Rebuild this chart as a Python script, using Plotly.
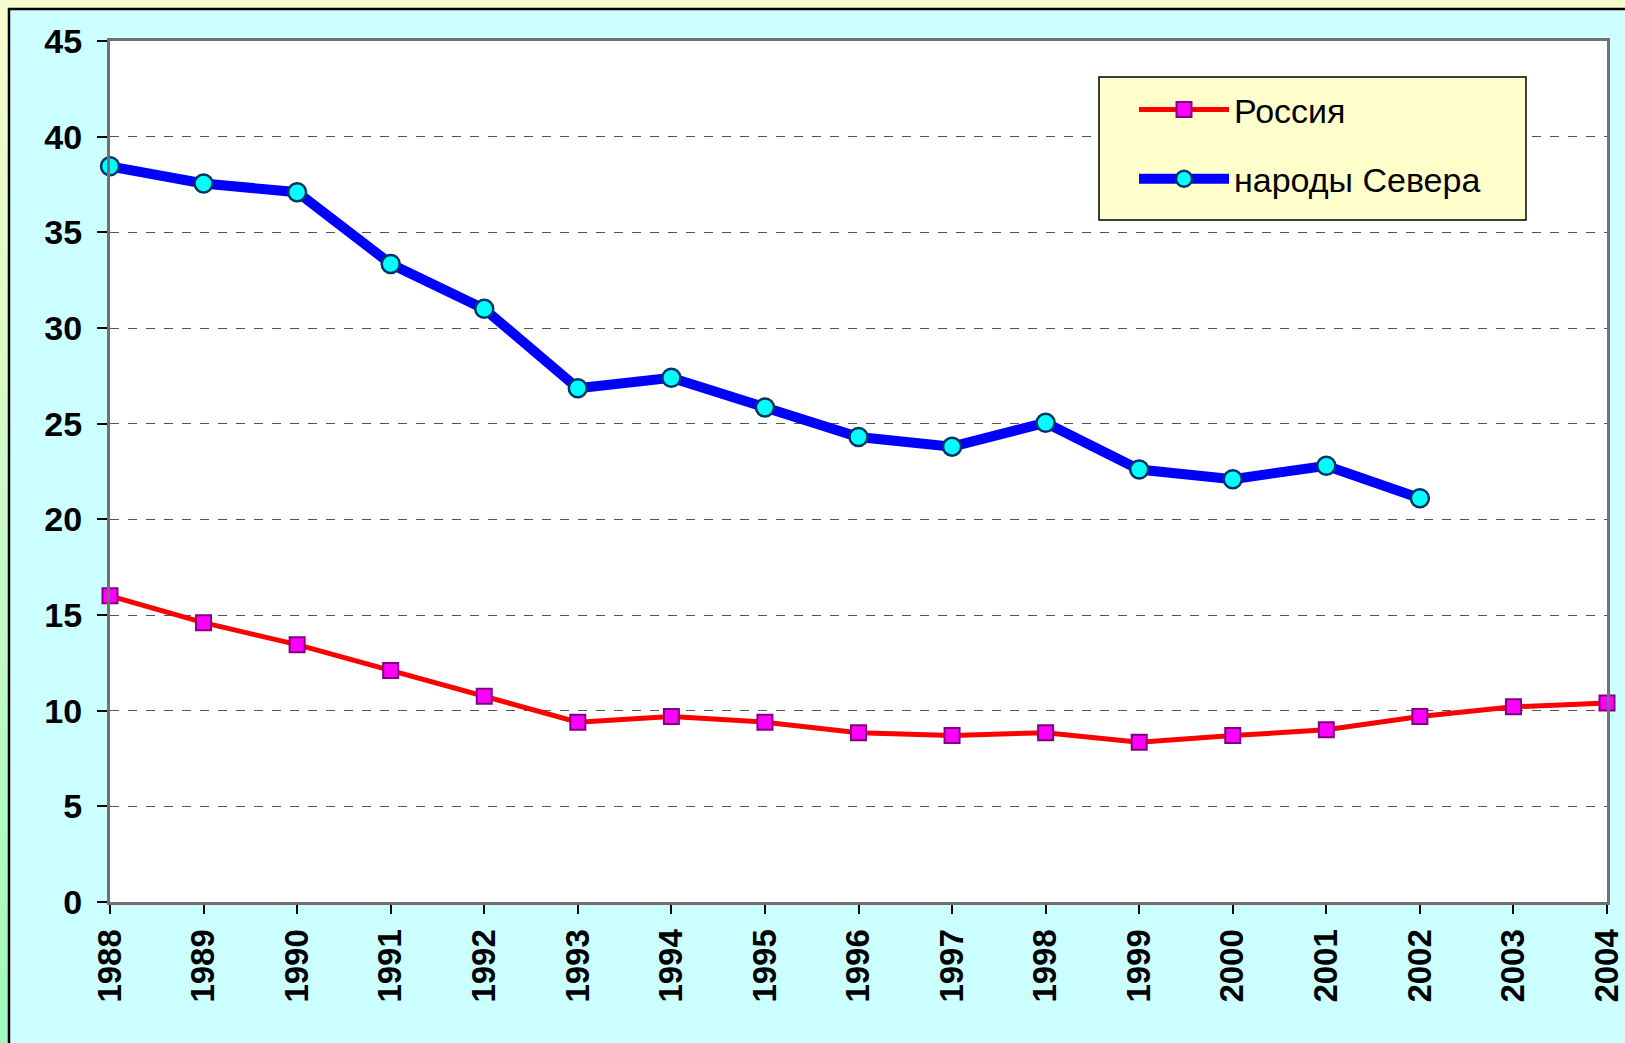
import plotly.graph_objects as go

years = list(range(1988, 2005))
russia_years = years
russia = [16.0, 14.6, 13.45, 12.1, 10.75, 9.4, 9.7, 9.4, 8.85, 8.7, 8.85, 8.35, 8.7, 9.0, 9.7, 10.2, 10.4]
north_years = list(range(1988, 2003))
north = [38.45, 37.55, 37.1, 33.35, 31.0, 26.85, 27.4, 25.85, 24.3, 23.8, 25.05, 22.6, 22.1, 22.8, 21.1]

y_ticks = [0, 5, 10, 15, 20, 25, 30, 35, 40, 45]

FONT = "Liberation Sans, Arial, sans-serif"

# figure geometry (px) for decorative shapes
W, H = 1625, 1043
L, R, T, B = 110, 18, 41, 141
pw, ph = W - L - R, H - T - B


def px_x(p):
    return (p - L) / pw


def px_y(p):
    return (H - B - p) / ph


fig = go.Figure()

fig.add_trace(go.Scatter(
    x=russia_years, y=russia, name="Россия", mode="lines+markers",
    line=dict(color="#FF0000", width=5),
    marker=dict(symbol="square", size=15, color="#FF00FF",
                line=dict(color="#800080", width=2)),
    cliponaxis=False, legendgroup="a",
))
fig.add_trace(go.Scatter(
    x=north_years, y=north, name="народы Севера", mode="lines+markers",
    line=dict(color="#0000FF", width=10),
    marker=dict(symbol="circle", size=18, color="#00FFFF",
                line=dict(color="#003366", width=2.5)),
    cliponaxis=False, legendgroup="b",
))

shapes = []
# outer left gradient strip (yellow -> green)
n = 30
top_c = (246, 252, 204)
bot_c = (160, 248, 192)
for i in range(n):
    t = i / (n - 1)
    c = tuple(round(top_c[k] + (bot_c[k] - top_c[k]) * t) for k in range(3))
    y0 = 9 + (H - 9) * i / n
    y1 = 9 + (H - 9) * (i + 1) / n + 1
    shapes.append(dict(type="rect", xref="paper", yref="paper", layer="below",
                       x0=px_x(0), x1=px_x(9), y0=px_y(y0), y1=px_y(y1),
                       fillcolor="rgb(%d,%d,%d)" % c, line=dict(width=0)))
# cyan chart area with black border
shapes.append(dict(type="rect", xref="paper", yref="paper", layer="below",
                   x0=px_x(9), x1=px_x(W + 10), y0=px_y(9), y1=px_y(H + 10),
                   fillcolor="#CCFFFF", line=dict(color="#000000", width=2.5)))
# white plot area
shapes.append(dict(type="rect", xref="paper", yref="paper", layer="below",
                   x0=0, x1=1, y0=0, y1=1,
                   fillcolor="#FFFFFF", line=dict(width=0)))
# legend box
shapes.append(dict(type="rect", xref="paper", yref="paper", layer="above",
                   x0=px_x(1099), x1=px_x(1526), y0=px_y(77), y1=px_y(220),
                   fillcolor="#FFFFCC", line=dict(color="#000000", width=1.5)))

fig.update_layout(
    width=W, height=H,
    paper_bgcolor="#F6FCCC",
    plot_bgcolor="#FFFFFF",
    margin=dict(l=L, r=R, t=T, b=B, pad=0, autoexpand=False),
    font=dict(family=FONT, color="#000000"),
    shapes=shapes,
    showlegend=True,
    legend=dict(
        x=px_x(1134), y=px_y(81), xanchor="left", yanchor="top",
        bgcolor="rgba(0,0,0,0)", borderwidth=0,
        font=dict(family=FONT, size=34, color="#000000"),
        traceorder="grouped", tracegroupgap=22, itemwidth=90,
    ),
    xaxis=dict(
        range=[1988, 2004], tickmode="array", tickvals=years,
        ticktext=[str(y) for y in years], tickangle=-90,
        tickfont=dict(family=FONT, size=33, color="#000000", weight="bold"),
        ticks="outside", ticklen=9, tickwidth=1.5, tickcolor="#000000",
        showgrid=False, zeroline=False, automargin=False,
        showline=True, linecolor="#707070", linewidth=3, mirror=True,
        ticklabelstandoff=2,
    ),
    yaxis=dict(
        range=[0, 45], tickmode="array", tickvals=y_ticks,
        tickfont=dict(family=FONT, size=34, color="#000000", weight="bold"),
        ticks="outside", ticklen=10, tickwidth=1.5, tickcolor="#000000",
        showgrid=True, gridcolor="#555555", gridwidth=1, griddash="dash",
        zeroline=False, automargin=False,
        showline=True, linecolor="#707070", linewidth=3, mirror=True,
        ticklabelstandoff=8,
    ),
)

fig.write_html(
    "out.html",
    config={"displayModeBar": False},
    post_script="document.body.style.margin='0px';document.body.style.overflow='hidden';",
)
